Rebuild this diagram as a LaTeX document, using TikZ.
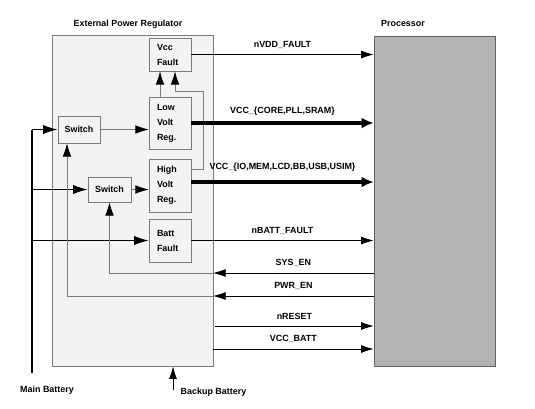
\documentclass[tikz,border=0pt]{standalone}
\usepackage{fontspec}
\setmainfont{Liberation Sans}
\usetikzlibrary{arrows.meta}

\definecolor{boxgray}{HTML}{F3F3F3}
\definecolor{linegray}{HTML}{7A7A7A}
\definecolor{procgray}{HTML}{B3B3B3}

\begin{document}
\begin{tikzpicture}[x=0.75pt, y=-0.75pt,
    every node/.style={font=\fontsize{6.7}{8.4}\selectfont\bfseries},
    blk/.style={draw=linegray, fill=boxgray, minimum width=31.5pt, inner xsep=6pt,
        text width=19.5pt, align=left, font=\fontsize{6.7}{11.25}\selectfont\bfseries},
    swbox/.style={draw=linegray, fill=boxgray, inner sep=0pt},
    tip/.style={-{Latex[length=9.5pt, width=6pt, color=black]}},
    gline/.style={draw=linegray, line width=0.6pt, -{Latex[length=10pt, width=6.5pt, color=black]}},
    sig/.style={black, line width=0.6pt, tip},
    bus/.style={black, line width=3pt, -{Latex[length=9pt, width=8pt]}},
    batt/.style={black, line width=1.1pt, -{Latex[length=11pt, width=7pt]}},
    lbl/.style={midway, above, yshift=1pt}]
    \useasboundingbox (0,0) rectangle (535,408);

    \node[draw=linegray, fill=boxgray, minimum width=120.75pt, minimum height=248.25pt] (reg) at (132.5,200.5) {};
    \node[draw=linegray!80!black, fill=procgray, minimum width=90.75pt, minimum height=247.5pt] (proc) at (434.5,201) {};
    \node at (128,24) {External Power Regulator};
    \node at (403,23) {Processor};

    \node[blk, minimum height=24.75pt] (vf) at (170,54.5) {Vcc\\Fault};
    \node[blk, minimum height=39pt] (lv) at (170,123) {Low\\Volt\\Reg.};
    \node[blk, minimum height=39.75pt] (hv) at (170,185.5) {High\\Volt\\Reg.};
    \node[blk, minimum height=32.25pt] (bf) at (170,240.5) {Batt\\Fault};
    \node[swbox, minimum width=31.5pt, minimum height=20.25pt] (sw1) at (79,129.5) {Switch};
    \node[swbox, minimum width=32.25pt, minimum height=18.75pt] (sw2) at (109.5,189.5) {Switch};

    \coordinate (mbbot) at (32,373);
    \coordinate (sysen) at (213,273);
    \coordinate (pwren) at (213,296);
    \coordinate (nrst) at (215,326);
    \coordinate (vbatt) at (213,349);
    \coordinate (bbat) at (173,390);

    % main battery feeds
    \draw[black, line width=1.1pt] (sw1.west -| mbbot) -- (mbbot);
    \foreach \n in {sw1, sw2, bf}
        \draw[batt] (\n.west -| mbbot) -- (\n.west);
    \node at (47,390) {Main Battery};

    \draw[sig] (bbat) -- (bbat |- reg.south);
    \node[anchor=west] at (176,392) {Backup Battery};

    % inside the regulator
    \draw[gline] (sw1.east) -- (sw1.east -| lv.west);
    \draw[gline] (sw2.east) -- (sw2.east -| hv.west);
    \draw[gline] ([xshift=-7.5pt]lv.north) -- ([xshift=-7.5pt]vf.south);
    \draw[gline] ([yshift=12.4pt]hv.east) -| (203,91) -| ([xshift=3.75pt]vf.south);
    \draw[gline] (sysen) -| (sw2.south);
    \draw[gline] (pwren) -| ([xshift=-9pt]sw1.south);

    % signals
    \draw[sig] (vf.east) -- (vf.east -| proc.west) node[lbl] {nVDD\_FAULT};
    \draw[bus] (lv.east) -- (lv.east -| proc.west) node[lbl] {VCC\_\{CORE,PLL,SRAM\}};
    \draw[bus] ([yshift=2.6pt]hv.east) -- ([yshift=2.6pt]hv.east -| proc.west) node[lbl, yshift=2pt] {VCC\_\{IO,MEM,LCD,BB,USB,USIM\}};
    \draw[sig] (bf.east) -- (bf.east -| proc.west) node[lbl] {nBATT\_FAULT};
    \draw[sig] (sysen -| proc.west) -- (sysen) node[lbl] {SYS\_EN};
    \draw[sig] (pwren -| proc.west) -- (pwren) node[lbl] {PWR\_EN};
    \draw[sig] (nrst) -- (nrst -| proc.west) node[lbl] {nRESET};
    \draw[sig] (vbatt) -- (vbatt -| proc.west) node[lbl] {VCC\_BATT};
\end{tikzpicture}
\end{document}
